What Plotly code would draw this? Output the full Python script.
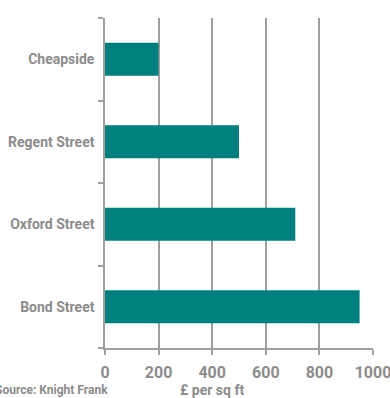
import plotly.graph_objects as go

categories = ["Bond Street", "Oxford Street", "Regent Street", "Cheapside"]
values = [950, 710, 500, 200]
x_ticks = [0, 200, 400, 600, 800, 1000]

FONT = "Roboto, Liberation Sans Narrow, sans-serif"
TXT = "#8c8c8c"
LINE = "#a0a0a0"

fig = go.Figure(go.Bar(
    y=categories, x=values, orientation="h",
    marker=dict(color="#007f7f", line=dict(width=0)),
    width=0.4,
))

fig.update_layout(
    width=390, height=398,
    margin=dict(l=105, r=17, t=18, b=50),
    paper_bgcolor="white", plot_bgcolor="white",
    showlegend=False,
    font=dict(family=FONT, color=TXT),
)
fig.update_xaxes(
    range=[0, 1000], tickvals=x_ticks, ticktext=[str(v) for v in x_ticks],
    showgrid=True, gridcolor=LINE, gridwidth=1.5,
    showline=True, linecolor=LINE, linewidth=1.5,
    ticks="outside", ticklen=5, tickcolor=LINE, tickwidth=1.5,
    tickfont=dict(family=FONT, size=16, color=TXT, weight="bold"),
    ticklabelstandoff=4, ticklabeloverflow="allow",
    zeroline=False, fixedrange=True, automargin=False,
)
fig.update_yaxes(
    categoryorder="array", categoryarray=categories,
    showgrid=False, showline=True, linecolor=LINE, linewidth=1.5,
    ticks="outside", ticklen=5, tickcolor=LINE, tickwidth=1.5,
    tickson="boundaries",
    tickfont=dict(family=FONT, size=14, color=TXT, weight="bold"),
    ticklabelstandoff=6, fixedrange=True, automargin=False,
)
fig.add_annotation(
    text="£ per sq ft", xref="paper", yref="paper",
    x=(212 - 105.3) / 268, y=(348 - 390) / 330,
    xanchor="center", yanchor="middle", showarrow=False,
    font=dict(family=FONT, size=14, color=TXT, weight="bold"),
)
fig.add_annotation(
    text="Source: Knight Frank", xref="paper", yref="paper",
    x=(-7 - 105.3) / 268, y=(348 - 390) / 330,
    xanchor="left", yanchor="middle", showarrow=False,
    font=dict(family=FONT, size=12, color=TXT, weight="bold"),
)
fig.write_html("out.html")
